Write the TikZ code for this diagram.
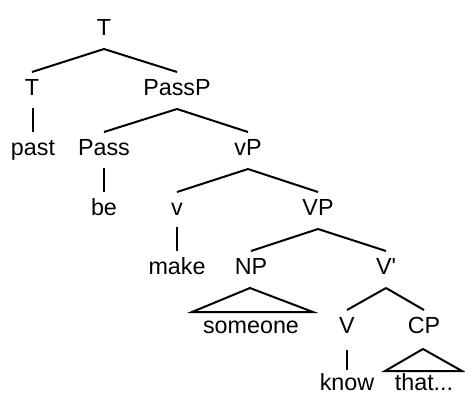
\documentclass[tikz,border=0pt]{standalone}
\usepackage{fontspec}
\setmainfont{Liberation Sans}
\usetikzlibrary{calc}
\begin{document}
\begin{tikzpicture}[x=1pt,y=-1pt,
  lbl/.style={anchor=base, inner sep=0pt, font=\fontsize{23.3}{28}\selectfont},
  edge/.style={line width=2pt},
]
\useasboundingbox (0,0) rectangle (465,394);
% labels, placed on their baselines
\node[lbl] (T)     at (104,35)  {T};
\node[lbl] (Tc)    at (32,95)   {T};
\node[lbl] (PassP) at (177,95)  {PassP};
\node[lbl] (past)  at (33,155)  {past};
\node[lbl] (Pass)  at (104,155) {Pass};
\node[lbl] (vP)    at (248,155) {vP};
\node[lbl] (be)    at (104,215) {be};
\node[lbl] (v)     at (177,215) {v};
\node[lbl] (VP)    at (318,215) {VP};
\node[lbl] (make)  at (177,274) {make};
\node[lbl] (NP)    at (251,274) {NP};
\node[lbl] (Vbar)  at (386,274) {V\textquotesingle};
\node[lbl] (someone) at (251,333) {someone};
\node[lbl] (V)     at (347,333) {V};
\node[lbl] (CP)    at (424,333) {CP};
\node[lbl] (know)  at (347,390) {know};
\node[lbl] (that)  at (424,390) {that...};
% branches: from 14 below a parent's baseline to 23 above a child's baseline
\foreach \p/\c in {T/Tc, T/PassP, PassP/Pass, PassP/vP, vP/v, vP/VP,
                   VP/NP, VP/Vbar, Vbar/V, Vbar/CP}
  \draw[edge] ($(\p.base)+(0,14)$) -- ($(\c.base)+(0,-23)$);
% unary branches
\foreach \p/\c in {Tc/past, Pass/be, v/make}
  \draw[edge] ($(\c.base)+(0,-47)$) -- ($(\c.base)+(0,-23)$);
\draw[edge] ($(V.base)+(0,17)$) -- ($(know.base)+(0,-20)$);
% triangles over unanalysed constituents
\draw[edge] ($(NP.base)+(-1,14)$) -- ($(someone.base)+(-59,-21)$)
  -- ($(someone.base)+(62,-21)$) -- cycle;
\draw[edge] ($(CP.base)+(-1,16)$) -- ($(that.base)+(-39,-19)$)
  -- ($(that.base)+(38,-19)$) -- cycle;
\end{tikzpicture}
\end{document}
